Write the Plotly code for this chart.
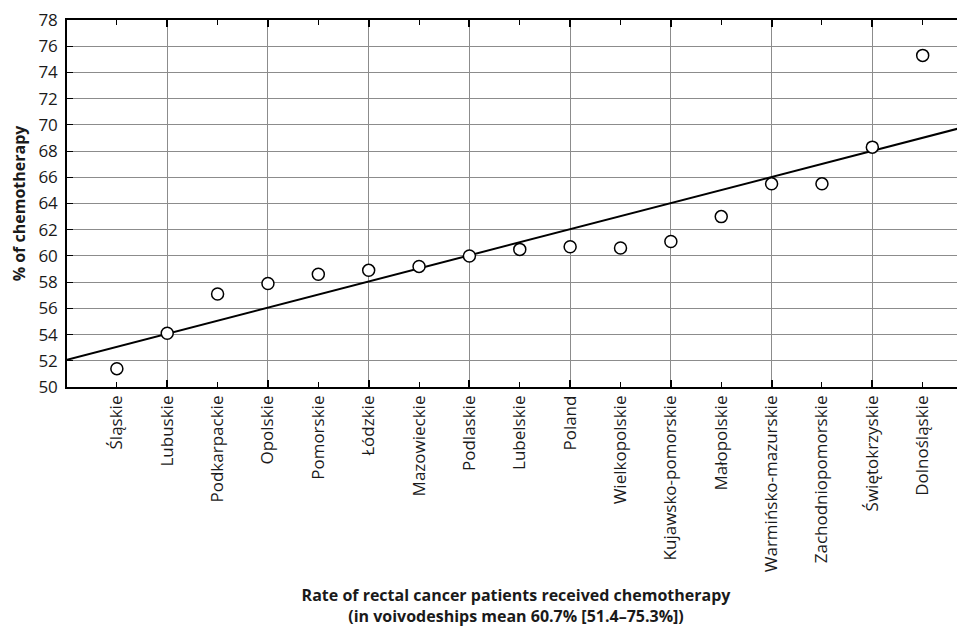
import numpy as np
import plotly.graph_objects as go

categories = ["Śląskie", "Lubuskie", "Podkarpackie", "Opolskie", "Pomorskie", "Łódzkie",
              "Mazowieckie", "Podlaskie", "Lubelskie", "Poland", "Wielkopolskie",
              "Kujawsko-pomorskie", "Małopolskie", "Warmińsko-mazurskie",
              "Zachodniopomorskie", "Świętokrzyskie", "Dolnośląskie"]
chemo_pct = [51.4, 54.1, 57.1, 57.9, 58.6, 58.9, 59.2, 60.0, 60.5, 60.7, 60.6,
             61.1, 63.0, 65.5, 65.5, 68.3, 75.3]
y_ticks = list(range(50, 80, 2))

x_idx = np.arange(len(categories))
x_range = [-0.99, 16.84]
slope, intercept = np.polyfit(x_idx, chemo_pct, 1)
fit_x = np.array(x_range)
fit_y = slope * fit_x + intercept

FONT = "Open Sans"
TXT = "#1a1a1a"

fig = go.Figure()
fig.add_trace(go.Scatter(x=fit_x, y=fit_y, mode="lines",
                         line=dict(color="black", width=2), showlegend=False,
                         hoverinfo="skip"))
fig.add_trace(go.Scatter(x=x_idx, y=chemo_pct, mode="markers",
                         marker=dict(symbol="circle", size=12, color="white",
                                     line=dict(color="black", width=1.5)),
                         showlegend=False))

fig.update_layout(
    width=957, height=619,
    margin=dict(l=58.5, r=0, t=11.8, b=240.3),
    paper_bgcolor="white", plot_bgcolor="white",
    font=dict(family=FONT, size=17, color=TXT),
    xaxis=dict(
        range=x_range, tickmode="array", tickvals=list(x_idx), ticktext=categories,
        tickangle=-90, ticks="inside", ticklen=5, tickcolor="black", tickwidth=1,
        showgrid=False, zeroline=False,
        showline=True, linecolor="black", linewidth=1.5, mirror="ticks",
        tickfont=dict(family=FONT, size=17, color=TXT),
        minor=dict(tickmode="array", tickvals=list(x_idx[1::2]), showgrid=True,
                   gridcolor="#8c8c8c", gridwidth=1, ticks="inside", ticklen=7,
                   tickcolor="black", tickwidth=1.5),
        title=dict(text="<b>Rate of rectal cancer patients received chemotherapy<br>"
                        "(in voivodeships mean 60.7% [51.4–75.3%])</b>",
                   font=dict(family=FONT, size=16, color=TXT), standoff=20),
        automargin=False,
    ),
    yaxis=dict(
        range=[50, 78], tickmode="array", tickvals=y_ticks,
        ticks="inside", ticklen=6, tickcolor="black", ticklabelstandoff=4,
        ticklabeloverflow="allow",
        showgrid=True, gridcolor="#8c8c8c", gridwidth=1, zeroline=False,
        showline=True, linecolor="black", linewidth=1.5,
        tickfont=dict(family=FONT, size=17, color=TXT),
        title=dict(text="<b>% of chemotherapy</b>",
                   font=dict(family=FONT, size=16, color=TXT), standoff=10),
        automargin=False,
    ),
)

fig.write_html("out.html")
